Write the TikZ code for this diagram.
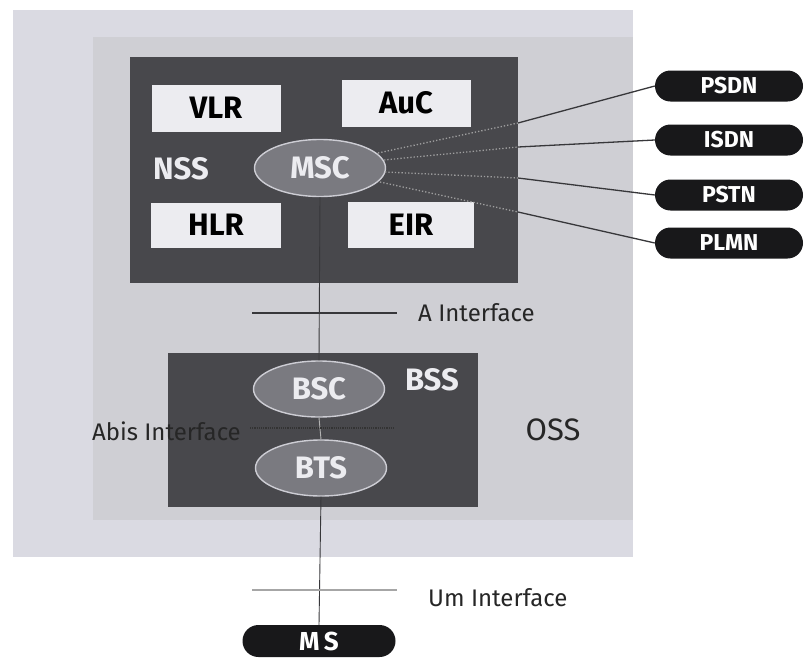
\documentclass[tikz,border=0pt]{standalone}
\usepackage{fontspec}
\setmainfont{Fira Sans}
\usetikzlibrary{shapes.geometric,shapes.misc}
\definecolor{bgouter}{RGB}{218,218,226}
\definecolor{bginner}{RGB}{207,207,212}
\definecolor{darkbox}{RGB}{72,72,76}
\definecolor{whitebox}{RGB}{236,236,240}
\definecolor{ellfill}{RGB}{122,122,128}
\definecolor{ellline}{RGB}{205,205,212}
\definecolor{pill}{RGB}{24,24,26}
\definecolor{linec}{RGB}{55,55,58}
\tikzset{
  darkpanel/.style={fill=darkbox, draw=none},
  entbox/.style={rectangle, fill=whitebox, draw=none, inner sep=0pt, font=\bfseries\fontsize{31}{32}\selectfont, text=black},
  ellnode/.style={ellipse, fill=ellfill, draw=ellline, line width=1.4pt, inner sep=0pt, minimum width=131pt, minimum height=56pt, font=\bfseries\fontsize{31}{32}\selectfont, text=whitebox},
  pillnode/.style={rounded rectangle, fill=pill, draw=none, inner sep=0pt, minimum width=148pt, minimum height=31pt, text=white, font=\bfseries\fontsize{23}{25}\selectfont},
  panellabel/.style={font=\bfseries\fontsize{31}{32}\selectfont, text=whitebox, inner sep=0pt},
  iflabel/.style={font=\fontsize{24}{26}\selectfont, text=black!85, inner sep=0pt},
  conn/.style={draw=linec, line width=1.3pt},
  dotconn/.style={draw=gray!75, line width=1.3pt, dotted},
}
\begin{document}
\begin{tikzpicture}[x=1pt,y=-1pt]
\useasboundingbox (0,0) rectangle (804,659);
\fill[white] (0,0) rectangle (804,659);
% OSS background
\fill[bgouter] (13,10) rectangle (633,557);
\fill[bginner] (93,37) rectangle (633,520);
% NSS panel
\fill[darkpanel] (130,57) rectangle (518,283);
% BSS panel
\fill[darkpanel] (168,353) rectangle (478,507);

% NSS entities
\node[entbox, minimum width=129pt, minimum height=47pt] (vlr) at (216,108) {VLR};
\node[entbox, minimum width=129pt, minimum height=47pt] (auc) at (406,103) {AuC};
\node[entbox, minimum width=130pt, minimum height=45pt] (hlr) at (216,225) {HLR};
\node[entbox, minimum width=126pt, minimum height=46pt] (eir) at (411,225) {EIR};
\node[panellabel] (nss) at (181,169) {NSS};
\node[ellnode, minimum width=131pt, minimum height=57pt] (msc) at (320,168) {MSC};

% BSS entities
\node[ellnode] (bsc) at (319,389) {BSC};
\node[ellnode] (bts) at (321,468) {BTS};
\node[panellabel] (bss) at (432,380) {BSS};

% OSS label
\node[font=\fontsize{31}{33}\selectfont, text=black!85, inner sep=0pt] (oss) at (553,430) {OSS};

% External networks
\node[pillnode] (psdn) at (729,86) {PSDN};
\node[pillnode] (isdn) at (729,140) {ISDN};
\node[pillnode] (pstn) at (729,195) {PSTN};
\node[pillnode] (plmn) at (729,243) {PLMN};
\node[pillnode, minimum width=153pt, minimum height=32pt, font=\bfseries\fontsize{26}{28}\selectfont] (ms) at (319,641) {M\,S};

% links MSC -> networks
\coordinate (e1) at (518,123);
\coordinate (e2) at (518,147);
\coordinate (e3) at (518,178);
\coordinate (e4) at (518,212);
\coordinate (s1) at (378,153);
\coordinate (s2) at (384,160);
\coordinate (s3) at (385,172);
\coordinate (s4) at (380,182);
\draw[dotconn] (s1) -- (e1);
\draw[dotconn] (s2) -- (e2);
\draw[dotconn] (s3) -- (e3);
\draw[dotconn] (s4) -- (e4);
\draw[conn] (e1) -- (psdn.west);
\draw[conn] (e2) -- (isdn.west);
\draw[conn] (e3) -- (pstn.west);
\draw[conn] (e4) -- (plmn.west);

% vertical chain
\draw[draw=linec, line width=0.9pt] (msc.south) -- (bsc.north);
\draw[draw=gray!60, line width=0.9pt] (bsc.south) -- (bts.north);
\draw[draw=linec, line width=0.9pt] (bts.south) -- (ms.north);

% interfaces
\coordinate (a1) at (252,313);
\coordinate (a2) at (397,313);
\draw[conn, line width=1.2pt] (a1) -- (a2);
\node[iflabel, anchor=west] (aif) at (418,313) {A Interface};

\coordinate (b1) at (250,428);
\coordinate (b2) at (395,428);
\draw[draw=black!80, line width=1.2pt, densely dotted] (b1) -- (b2);
\node[iflabel, anchor=east] (abis) at (241,431) {Abis Interface};

\coordinate (u1) at (252,590);
\coordinate (u2) at (397,590);
\draw[draw=gray!70, line width=1.3pt] (u1) -- (u2);
\node[iflabel, anchor=west] (um) at (428,598) {Um Interface};
\end{tikzpicture}
\end{document}
